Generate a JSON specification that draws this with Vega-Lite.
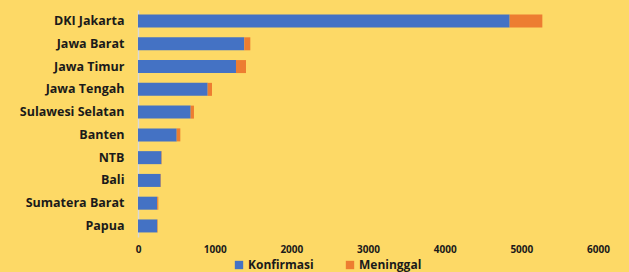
{
  "$schema": "https://vega.github.io/schema/vega-lite/v6.json",
  "width": 460,
  "height": 227,
  "autosize": {"type": "none"},
  "padding": {"left": 138, "top": 10, "right": 31, "bottom": 35},
  "background": "#FDD966",
  "config": {"view": {"stroke": null}, "font": "Open Sans"},
  "data": {"values": [
    {"provinsi": "DKI Jakarta", "kategori": "Konfirmasi", "urut": 1, "nilai": 4848},
    {"provinsi": "DKI Jakarta", "kategori": "Meninggal", "urut": 2, "nilai": 426},
    {"provinsi": "Jawa Barat", "kategori": "Konfirmasi", "urut": 1, "nilai": 1387},
    {"provinsi": "Jawa Barat", "kategori": "Meninggal", "urut": 2, "nilai": 78},
    {"provinsi": "Jawa Timur", "kategori": "Konfirmasi", "urut": 1, "nilai": 1278},
    {"provinsi": "Jawa Timur", "kategori": "Meninggal", "urut": 2, "nilai": 131},
    {"provinsi": "Jawa Tengah", "kategori": "Konfirmasi", "urut": 1, "nilai": 909},
    {"provinsi": "Jawa Tengah", "kategori": "Meninggal", "urut": 2, "nilai": 56},
    {"provinsi": "Sulawesi Selatan", "kategori": "Konfirmasi", "urut": 1, "nilai": 687},
    {"provinsi": "Sulawesi Selatan", "kategori": "Meninggal", "urut": 2, "nilai": 43},
    {"provinsi": "Banten", "kategori": "Konfirmasi", "urut": 1, "nilai": 505},
    {"provinsi": "Banten", "kategori": "Meninggal", "urut": 2, "nilai": 47},
    {"provinsi": "NTB", "kategori": "Konfirmasi", "urut": 1, "nilai": 306},
    {"provinsi": "NTB", "kategori": "Meninggal", "urut": 2, "nilai": 4},
    {"provinsi": "Bali", "kategori": "Konfirmasi", "urut": 1, "nilai": 296},
    {"provinsi": "Bali", "kategori": "Meninggal", "urut": 2, "nilai": 4},
    {"provinsi": "Sumatera Barat", "kategori": "Konfirmasi", "urut": 1, "nilai": 251},
    {"provinsi": "Sumatera Barat", "kategori": "Meninggal", "urut": 2, "nilai": 14},
    {"provinsi": "Papua", "kategori": "Konfirmasi", "urut": 1, "nilai": 252},
    {"provinsi": "Papua", "kategori": "Meninggal", "urut": 2, "nilai": 5}
  ]},
  "mark": {"type": "bar", "height": 13},
  "encoding": {
    "y": {
      "field": "provinsi", "type": "nominal", "sort": null, "title": null,
      "scale": {"paddingInner": 0.43, "paddingOuter": 0.2},
      "axis": {"domain": true, "domainColor": "#D9D9D9", "domainWidth": 1.5, "ticks": false, "labelPadding": 14, "labelFontSize": 12.5, "labelFontWeight": "bold", "labelColor": "#1a1a1a", "labelFont": "Open Sans"}
    },
    "x": {
      "field": "nilai", "type": "quantitative", "stack": "zero", "title": null,
      "scale": {"domain": [0, 6000], "nice": false},
      "axis": {"values": [0, 1000, 2000, 3000, 4000, 5000, 6000], "format": "d", "grid": false, "domain": false, "ticks": false, "labelPadding": 7, "labelFontSize": 10, "labelFontWeight": "bold", "labelColor": "#1a1a1a", "labelFlush": false}
    },
    "color": {
      "field": "kategori", "type": "nominal", "title": null,
      "scale": {"domain": ["Konfirmasi", "Meninggal"], "range": ["#4472C4", "#ED7D31"]},
      "legend": {"orient": "none", "legendX": 95, "legendY": 249, "direction": "horizontal", "symbolType": "square", "symbolSize": 70, "labelFontSize": 12, "labelFontWeight": "bold", "labelColor": "#1a1a1a", "columnPadding": 30, "symbolOffset": 0, "labelOffset": 3}
    },
    "order": {"field": "urut", "type": "quantitative"}
  }
}
